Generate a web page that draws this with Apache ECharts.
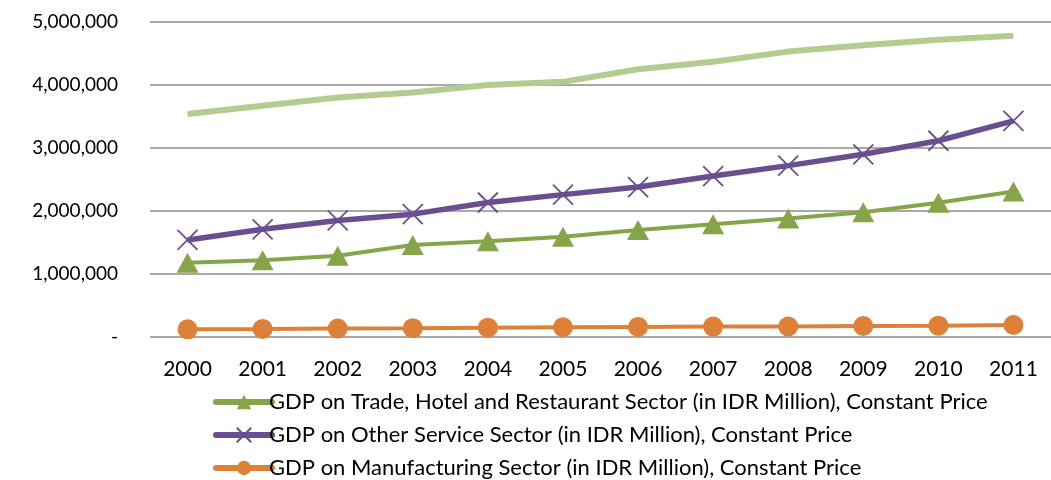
<!DOCTYPE html>
<html><head><meta charset="utf-8">
<script src="https://cdn.jsdelivr.net/npm/echarts@6/dist/echarts.min.js"></script>
<style>html,body{margin:0;padding:0;background:#fff}#c{width:1051px;height:480px}</style>
</head><body><div id="c"></div>
<script>
const years = ['2000','2001','2002','2003','2004','2005','2006','2007','2008','2009','2010','2011'];
const totalName = 'GDP Total (in IDR Million), Constant Price';
const totalVals = [3540000,3670000,3800000,3880000,4000000,4050000,4250000,4370000,4530000,4630000,4720000,4780000];
const tradeName = 'GDP on Trade, Hotel and Restaurant Sector (in IDR Million), Constant Price';
const tradeVals = [1180000,1220000,1290000,1460000,1520000,1590000,1700000,1790000,1880000,1980000,2130000,2310000];
const serviceName = 'GDP on Other Service Sector (in IDR Million), Constant Price';
const serviceVals = [1540000,1710000,1850000,1950000,2135000,2260000,2380000,2555000,2720000,2900000,3115000,3430000];
const manufName = 'GDP on Manufacturing Sector (in IDR Million), Constant Price';
const manufVals = [122000,128000,135000,140000,148000,155000,160000,165000,167000,175000,180000,190000];
const yTicks = {min: 0, max: 5000000, interval: 1000000};

const FONT = 'Lato';
const chart = echarts.init(document.getElementById('c'));
chart.setOption({
  animation: false,
  textStyle: {fontFamily: FONT},
  grid: {left: 150, right: -9, top: 22, bottom: 143},
  xAxis: {
    type: 'category', data: years, boundaryGap: true,
    axisLine: {show: false}, axisTick: {show: false},
    axisLabel: {fontSize: 21, color: '#000', margin: 22, fontFamily: FONT}
  },
  yAxis: {
    type: 'value', min: yTicks.min, max: yTicks.max, interval: yTicks.interval,
    axisLine: {show: false}, axisTick: {show: false},
    splitLine: {lineStyle: {color: '#8c8c8c', width: 1.5}},
    axisLabel: {fontSize: 19, color: '#000', margin: 32, fontFamily: FONT,
      formatter: v => v === 0 ? '-' : v.toLocaleString('en-US')}
  },
  legend: {
    data: [tradeName, serviceName, manufName],
    orient: 'vertical', left: 208, top: 386, height: 150, itemGap: 11,
    itemWidth: 56, itemHeight: 18,
    lineStyle: {width: 6, cap: 'round'},
    textStyle: {fontSize: 22, color: '#000', fontFamily: FONT, padding: [0,0,0,-8]}
  },
  series: [
    {name: totalName, type: 'line', data: totalVals, symbol: 'none',
     lineStyle: {color: '#b5cc90', width: 6}, itemStyle: {color: '#b5cc90'}},
    {name: tradeName, type: 'line', data: tradeVals, symbol: 'triangle', symbolSize: [22, 20],
     lineStyle: {color: '#86a44a', width: 4}, itemStyle: {color: '#86a44a'}},
    {name: serviceName, type: 'line', data: serviceVals,
     symbol: 'path://M0,0L10,10M10,0L0,10', symbolSize: 20, symbolKeepAspect: true,
     lineStyle: {color: '#6a4f90', width: 5.5},
     itemStyle: {color: 'none', borderColor: '#6a4f90', borderWidth: 1.8}},
    {name: manufName, type: 'line', data: manufVals, symbol: 'circle', symbolSize: 20,
     lineStyle: {color: '#dd8038', width: 4}, itemStyle: {color: '#dd8038'}}
  ]
});
</script></body></html>
